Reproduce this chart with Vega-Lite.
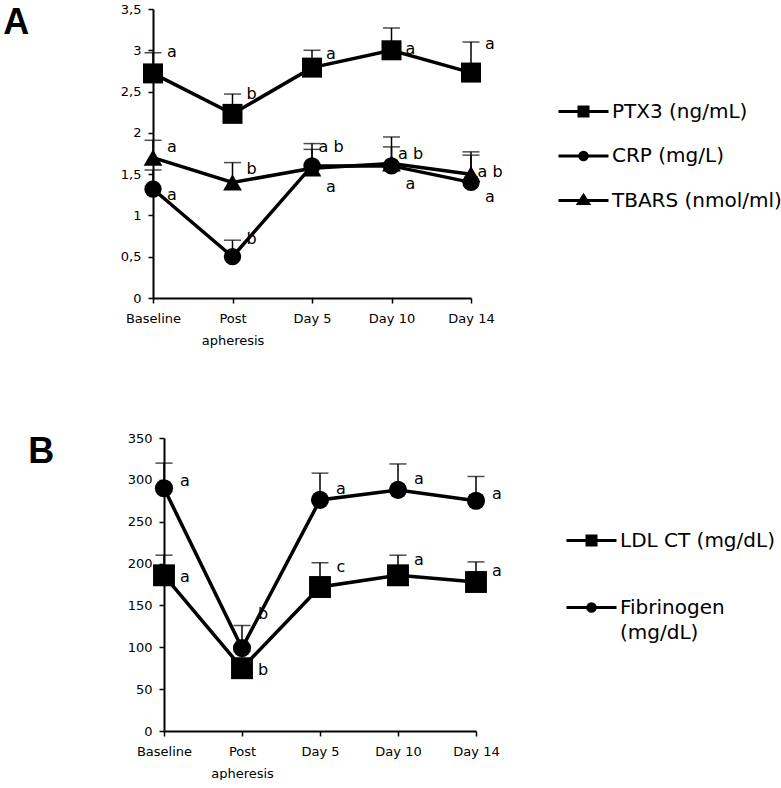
{
  "$schema": "https://vega.github.io/schema/vega-lite/v6.json",
  "background": "white",
  "padding": {"left": 3, "top": 3, "right": 0, "bottom": 0},
  "config": {
    "view": {"stroke": null},
    "font": "DejaVu Sans",
    "axis": {"domainColor": "black", "domainWidth": 2, "tickColor": "black", "tickWidth": 1.5, "tickSize": 5, "labelColor": "black", "labelFont": "DejaVu Sans", "labelFontSize": 13, "grid": false, "title": null}
  },
  "resolve": {"scale": {"color": "independent"}, "legend": {"color": "independent"}},
  "spacing": 85,
  "vconcat": [
    {
      "width": 318,
      "height": 289,
      "title": {"text": "A", "orient": "left", "anchor": "end", "angle": 0, "font": "Liberation Sans", "fontSize": 36, "fontWeight": "bold", "color": "black", "align": "left", "baseline": "top", "offset": 91, "dy": 3},
      "data": {"values": [
        {"s": "PTX3 (ng/mL)", "t": "Baseline", "v": 2.72, "err": 2.97, "lab": "a", "ly": 2.98},
        {"s": "PTX3 (ng/mL)", "t": "Post apheresis", "v": 2.23, "err": 2.47, "lab": "b", "ly": 2.47},
        {"s": "PTX3 (ng/mL)", "t": "Day 5", "v": 2.79, "err": 3.0, "lab": "a", "ly": 2.95},
        {"s": "PTX3 (ng/mL)", "t": "Day 10", "v": 3.0, "err": 3.27, "lab": "a", "ly": 3.02},
        {"s": "PTX3 (ng/mL)", "t": "Day 14", "v": 2.73, "err": 3.1, "lab": "a", "ly": 3.08},
        {"s": "CRP (mg/L)", "t": "Baseline", "v": 1.32, "err": 1.55, "lab": "a", "ly": 1.25},
        {"s": "CRP (mg/L)", "t": "Post apheresis", "v": 0.5, "err": 0.7, "lab": "b", "ly": 0.71},
        {"s": "CRP (mg/L)", "t": "Day 5", "v": 1.6, "err": 1.8, "lab": "a", "ly": 1.34},
        {"s": "CRP (mg/L)", "t": "Day 10", "v": 1.6, "err": 1.83, "lab": "a", "ly": 1.38},
        {"s": "CRP (mg/L)", "t": "Day 14", "v": 1.4, "err": 1.73, "lab": "a", "ly": 1.22},
        {"s": "TBARS (nmol/ml)", "t": "Baseline", "v": 1.7, "err": 1.91, "lab": "a", "ly": 1.83},
        {"s": "TBARS (nmol/ml)", "t": "Post apheresis", "v": 1.4, "err": 1.64, "lab": "b", "ly": 1.56},
        {"s": "TBARS (nmol/ml)", "t": "Day 5", "v": 1.57, "err": 1.87, "lab": "a b", "ly": 1.83},
        {"s": "TBARS (nmol/ml)", "t": "Day 10", "v": 1.63, "err": 1.95, "lab": "a b", "ly": 1.74},
        {"s": "TBARS (nmol/ml)", "t": "Day 14", "v": 1.5, "err": 1.77, "lab": "a b", "ly": 1.53}
      ]},
      "encoding": {
        "x": {"field": "t", "type": "ordinal", "sort": ["Baseline", "Post apheresis", "Day 5", "Day 10", "Day 14"], "scale": {"type": "point", "padding": 0},
          "axis": {"labelAngle": 0, "labelPadding": 9, "labelLineHeight": 22, "labelExpr": "datum.label == 'Post apheresis' ? ['Post', 'apheresis'] : datum.label"}}
      },
      "layer": [
        {"mark": {"type": "rule", "color": "black", "strokeWidth": 1.5},
         "encoding": {"y": {"field": "v", "type": "quantitative", "scale": {"domain": [0, 3.5]}, "axis": {"values": [0, 0.5, 1, 1.5, 2, 2.5, 3, 3.5], "labelPadding": 7, "labelExpr": "replace(format(datum.value, '~g'), '.', ',')"}}, "y2": {"field": "err"}}},
        {"mark": {"type": "tick", "color": "black", "thickness": 1.5, "size": 17, "orient": "horizontal"},
         "encoding": {"y": {"field": "err", "type": "quantitative"}}},
        {"mark": {"type": "line", "strokeWidth": 3.5},
         "encoding": {"y": {"field": "v", "type": "quantitative"},
           "color": {"field": "s", "type": "nominal", "scale": {"domain": ["PTX3 (ng/mL)", "CRP (mg/L)", "TBARS (nmol/ml)"], "range": ["black", "black", "black"]},
             "legend": {"orient": "none", "legendX": 404, "legendY": 76, "title": null, "padding": 0, "rowPadding": 7.5, "symbolSize": 2500, "symbolStrokeWidth": 3, "symbolStrokeColor": "black", "symbolFillColor": "black", "labelFontSize": 20, "labelFont": "DejaVu Sans", "labelColor": "black", "labelOffset": 2, "labelLimit": 300,
               "encode": {"symbols": {"update": {"size": {"value": 2500}, "shape": {"signal": "datum.value === 'PTX3 (ng/mL)' ? 'M-1,0H1M-0.18,-0.18H0.18V0.18H-0.18Z' : datum.value === 'CRP (mg/L)' ? 'M-1,0H1M-0.15,0A0.15,0.15,0,1,1,0.15,0A0.15,0.15,0,1,1,-0.15,0Z' : 'M-1,0H1M-0.2,0.12L0,-0.2L0.2,0.12Z'"}, "fill": {"value": "black"}, "stroke": {"value": "black"}, "strokeWidth": {"value": 3}}}}}}}},
        {"transform": [{"filter": "datum.s === 'PTX3 (ng/mL)'"}],
         "mark": {"type": "point", "shape": "square", "size": 400, "filled": true, "color": "black", "opacity": 1},
         "encoding": {"y": {"field": "v", "type": "quantitative"}}},
        {"transform": [{"filter": "datum.s === 'CRP (mg/L)'"}],
         "mark": {"type": "point", "shape": "circle", "size": 300, "filled": true, "color": "black", "opacity": 1},
         "encoding": {"y": {"field": "v", "type": "quantitative"}}},
        {"transform": [{"filter": "datum.s === 'TBARS (nmol/ml)'"}],
         "mark": {"type": "point", "shape": "triangle-up", "size": 350, "filled": true, "color": "black", "opacity": 1},
         "encoding": {"y": {"field": "v", "type": "quantitative"}}},
        {"mark": {"type": "text", "dx": 19, "fontSize": 16, "color": "black", "font": "DejaVu Sans"},
         "encoding": {"y": {"field": "ly", "type": "quantitative"}, "text": {"field": "lab"}}}
      ]
    },
    {
      "width": 323,
      "height": 293,
      "title": {"text": "B", "orient": "left", "anchor": "end", "angle": 0, "font": "Liberation Sans", "fontSize": 36, "fontWeight": "bold", "color": "black", "align": "left", "baseline": "top", "offset": 73, "dy": 3},
      "data": {"values": [
        {"s": "LDL CT (mg/dL)", "t": "Baseline", "v": 186, "err": 210, "lab": "a", "ly": 184},
        {"s": "LDL CT (mg/dL)", "t": "Post apheresis", "v": 75, "err": 95, "lab": "b", "ly": 73},
        {"s": "LDL CT (mg/dL)", "t": "Day 5", "v": 172, "err": 201, "lab": "c", "ly": 196},
        {"s": "LDL CT (mg/dL)", "t": "Day 10", "v": 186, "err": 210, "lab": "a", "ly": 204},
        {"s": "LDL CT (mg/dL)", "t": "Day 14", "v": 178, "err": 202, "lab": "a", "ly": 191},
        {"s": "Fibrinogen (mg/dL)", "t": "Baseline", "v": 290, "err": 320, "lab": "a", "ly": 299},
        {"s": "Fibrinogen (mg/dL)", "t": "Post apheresis", "v": 99, "err": 126, "lab": "b", "ly": 140},
        {"s": "Fibrinogen (mg/dL)", "t": "Day 5", "v": 276, "err": 308, "lab": "a", "ly": 289},
        {"s": "Fibrinogen (mg/dL)", "t": "Day 10", "v": 288, "err": 319, "lab": "a", "ly": 301},
        {"s": "Fibrinogen (mg/dL)", "t": "Day 14", "v": 275, "err": 304, "lab": "a", "ly": 283}
      ]},
      "encoding": {
        "x": {"field": "t", "type": "ordinal", "sort": ["Baseline", "Post apheresis", "Day 5", "Day 10", "Day 14"], "scale": {"type": "point", "padding": 0, "range": [11, 323]},
          "axis": {"labelAngle": 0, "labelPadding": 9, "labelLineHeight": 22, "labelExpr": "datum.label == 'Post apheresis' ? ['Post', 'apheresis'] : datum.label"}}
      },
      "layer": [
        {"mark": {"type": "rule", "color": "black", "strokeWidth": 1.5},
         "encoding": {"y": {"field": "v", "type": "quantitative", "scale": {"domain": [0, 350]}, "axis": {"values": [0, 50, 100, 150, 200, 250, 300, 350], "labelPadding": 7, "offset": -11}}, "y2": {"field": "err"}}},
        {"mark": {"type": "tick", "color": "black", "thickness": 1.5, "size": 17, "orient": "horizontal"},
         "encoding": {"y": {"field": "err", "type": "quantitative"}}},
        {"mark": {"type": "line", "strokeWidth": 3.5},
         "encoding": {"y": {"field": "v", "type": "quantitative"},
           "color": {"field": "s", "type": "nominal", "scale": {"domain": ["LDL CT (mg/dL)", "Fibrinogen (mg/dL)"], "range": ["black", "black"]},
             "legend": {"orient": "none", "legendX": 412, "legendY": 76, "title": null, "padding": 0, "rowPadding": 30, "symbolSize": 2500, "symbolStrokeWidth": 3, "symbolStrokeColor": "black", "symbolFillColor": "black", "labelFontSize": 20, "labelFont": "DejaVu Sans", "labelColor": "black", "labelOffset": 2, "labelLimit": 300,
               "labelExpr": "datum.label == 'Fibrinogen (mg/dL)' ? ['Fibrinogen', '(mg/dL)'] : datum.label",
               "encode": {"labels": {"update": {"lineHeight": {"value": 25}}}, "symbols": {"update": {"size": {"value": 2500}, "shape": {"signal": "datum.value === 'LDL CT (mg/dL)' ? 'M-1,0H1M-0.18,-0.18H0.18V0.18H-0.18Z' : 'M-1,0H1M-0.15,0A0.15,0.15,0,1,1,0.15,0A0.15,0.15,0,1,1,-0.15,0Z'"}, "fill": {"value": "black"}, "stroke": {"value": "black"}, "strokeWidth": {"value": 3}}}}}}}},
        {"transform": [{"filter": "datum.s === 'LDL CT (mg/dL)'"}],
         "mark": {"type": "point", "shape": "square", "size": 480, "filled": true, "color": "black", "opacity": 1},
         "encoding": {"y": {"field": "v", "type": "quantitative"}}},
        {"transform": [{"filter": "datum.s === 'Fibrinogen (mg/dL)'"}],
         "mark": {"type": "point", "shape": "circle", "size": 330, "filled": true, "color": "black", "opacity": 1},
         "encoding": {"y": {"field": "v", "type": "quantitative"}}},
        {"mark": {"type": "text", "dx": 21, "fontSize": 16, "color": "black", "font": "DejaVu Sans"},
         "encoding": {"y": {"field": "ly", "type": "quantitative"}, "text": {"field": "lab"}}}
      ]
    }
  ]
}
